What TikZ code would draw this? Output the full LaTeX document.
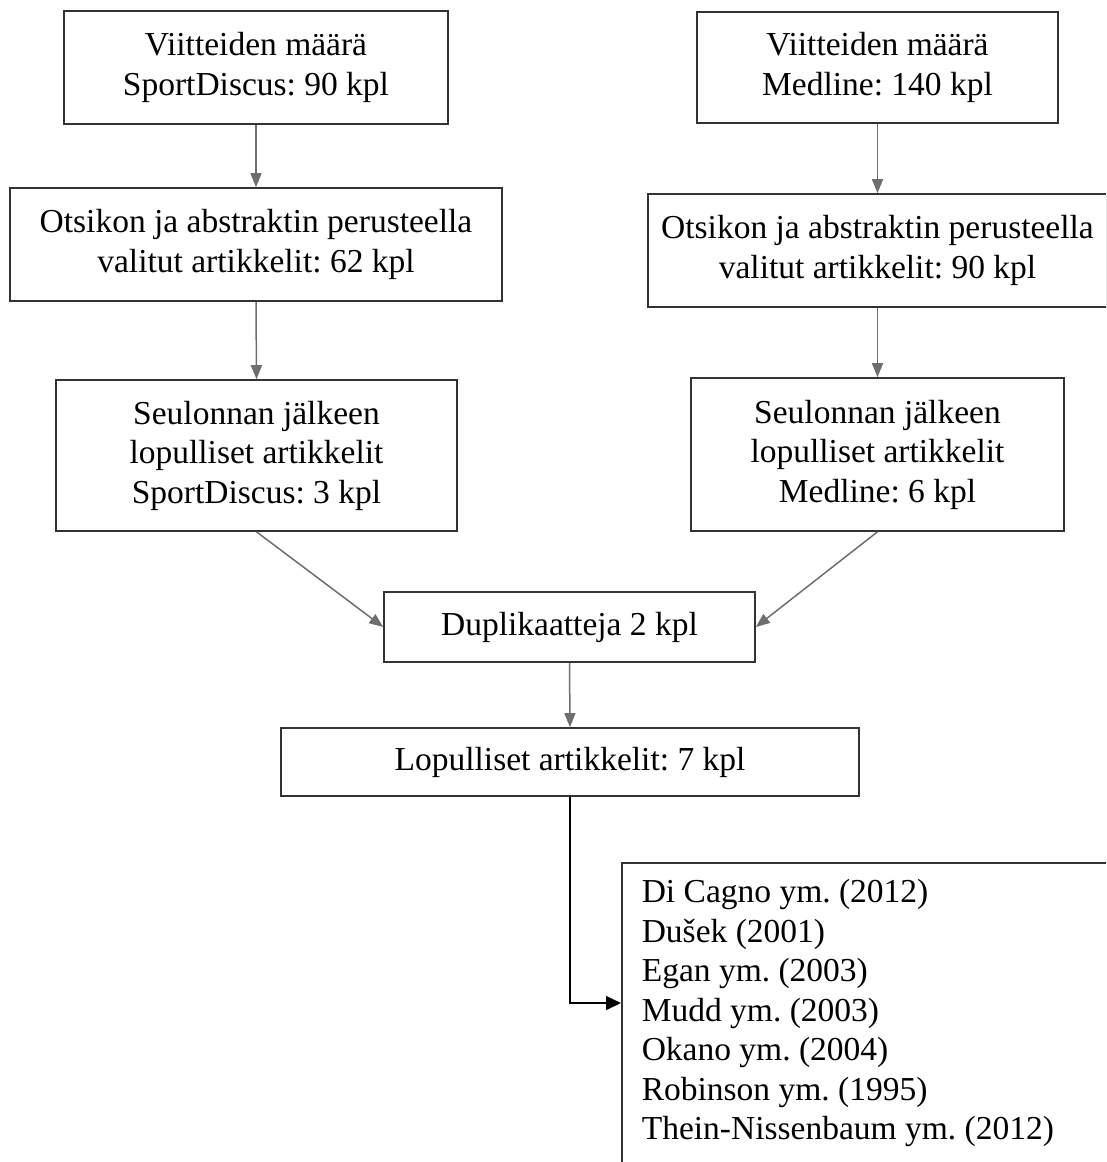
\documentclass[tikz,border=0pt]{standalone}
\usepackage{fontspec}
\setmainfont{Liberation Serif}
\frenchspacing
\usetikzlibrary{arrows.meta}
\definecolor{arrowgray}{HTML}{6E6E6E}
\definecolor{boxline}{HTML}{333333}
\tikzset{
  box/.style={draw=boxline, line width=1.6pt, rectangle, align=center, inner sep=0pt,
    font=\fontsize{33.5}{39.5}\selectfont},
  flow/.style={draw=arrowgray, line width=1.5pt, -{Triangle[length=14pt,width=11pt]}},
  finalflow/.style={draw=black, line width=1.5pt, -{Triangle[length=15pt,width=14pt]}}
}
\begin{document}
\begin{tikzpicture}[x=1pt,y=-1pt]
\path[use as bounding box, clip] (0,0) rectangle (1106,1162);
\node[box, minimum width=384pt, minimum height=113pt] (b1) at (256,67.5)
  {Viitteiden määrä\\SportDiscus: 90 kpl};
\node[box, minimum width=361pt, minimum height=111pt] (b2) at (877.5,67.5)
  {Viitteiden määrä\\Medline: 140 kpl};
\node[box, minimum width=492pt, minimum height=113pt] (b3) at (256,244.5)
  {Otsikon ja abstraktin perusteella\\valitut artikkelit: 62 kpl};
\node[box, minimum width=459pt, minimum height=113pt] (b4) at (877.5,250.5)
  {Otsikon ja abstraktin perusteella\\valitut artikkelit: 90 kpl};
\node[box, minimum width=401pt, minimum height=151pt] (b5) at (256.5,455.5)
  {Seulonnan jälkeen\\lopulliset artikkelit\\SportDiscus: 3 kpl};
\node[box, minimum width=373pt, minimum height=153pt] (b6) at (877.5,454.5)
  {Seulonnan jälkeen\\lopulliset artikkelit\\Medline: 6 kpl};
\node[box, minimum width=371pt, minimum height=70pt] (b7) at (569.5,627)
  {Duplikaatteja 2 kpl};
\node[box, minimum width=578pt, minimum height=68pt] (b8) at (570,762)
  {Lopulliset artikkelit: 7 kpl};
\node[box, anchor=north west, inner xsep=20pt, inner ysep=16.5pt] (refs) at (621,862)
  {\parbox[t][300pt][t]{500pt}{\raggedright
   Di Cagno ym. (2012)\\Dušek (2001)\\Egan ym. (2003)\\Mudd ym. (2003)\\Okano ym. (2004)\\Robinson ym. (1995)\\Thein-Nissenbaum ym. (2012)}};
\coordinate (refin) at (621,1003);
\draw[flow] (b1.south) -- (b3.north);
\draw[flow] (b2.south) -- (b4.north);
\draw[flow] (b3.south) -- (b5.north);
\draw[flow] (b4.south) -- (b6.north);
\draw[flow] (b5.south) -- (b7.west);
\draw[flow] (b6.south) -- (b7.east);
\draw[flow] (b7.south) -- (b8.north);
\draw[finalflow] (b8.south) |- (refin);
\end{tikzpicture}
\end{document}
